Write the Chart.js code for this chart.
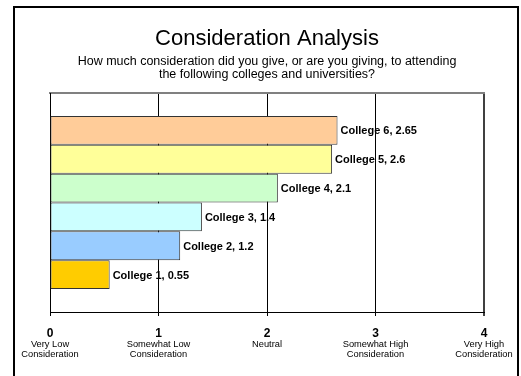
<!DOCTYPE html>
<html>
<head>
<meta charset="utf-8">
<title>Consideration Analysis</title>
<script src="https://cdn.jsdelivr.net/npm/chart.js@4.4.1/dist/chart.umd.min.js"></script>
<style>
  html, body { margin: 0; padding: 0; background: #ffffff; }
  #wrap { width: 521px; height: 376px; }
</style>
</head>
<body>
<div id="wrap"><canvas id="chart" width="521" height="376"></canvas></div>
<script>
// Colleges and their average consideration score (0 = very low, 4 = very high)
const colleges = ['College 1', 'College 2', 'College 3', 'College 4', 'College 5', 'College 6'];
const scores = [0.55, 1.2, 1.4, 2.1, 2.6, 2.65];
const barColors = ['#FFCC00', '#99CCFF', '#CCFFFF', '#CCFFCC', '#FFFF99', '#FFCC99'];

// Scale ticks and the wording printed beneath each one
const tickValues = [0, 1, 2, 3, 4];
const tickNotes = [
  ['Very Low', 'Consideration'],
  ['Somewhat Low', 'Consideration'],
  ['Neutral'],
  ['Somewhat High', 'Consideration'],
  ['Very High', 'Consideration']
];

const titleText = 'Consideration Analysis';
const subtitleLines = [
  'How much consideration did you give, or are you giving, to attending',
  'the following colleges and universities?'
];

const FONT = "'Liberation Sans', Arial, Helvetica, sans-serif";

// One category holding every college as its own bar; highest listed first so it sits on top.
const order = colleges.map((_, i) => i).reverse();
const datasets = order.map(i => ({
  label: colleges[i],
  data: [scores[i]],
  backgroundColor: barColors[i],
  borderColor: '#333333',
  borderWidth: 1,
  borderSkipped: false,
  categoryPercentage: 0.79,
  barPercentage: 1.0
}));

// Frame around the whole figure (open at the bottom)
const framePlugin = {
  id: 'frame',
  afterDraw(chart) {
    const ctx = chart.ctx;
    ctx.save();
    ctx.strokeStyle = '#000000';
    ctx.lineWidth = 2;
    ctx.beginPath();
    ctx.moveTo(14, 376);
    ctx.lineTo(14, 7);
    ctx.lineTo(518, 7);
    ctx.lineTo(518, 376);
    ctx.stroke();
    ctx.restore();
  }
};

// "College N, value" text to the right of each bar
const barLabelPlugin = {
  id: 'barLabels',
  afterDatasetsDraw(chart) {
    const ctx = chart.ctx;
    ctx.save();
    ctx.font = 'bold 11px ' + FONT;
    ctx.fillStyle = '#000000';
    ctx.textAlign = 'left';
    ctx.textBaseline = 'middle';
    chart.data.datasets.forEach((ds, di) => {
      const bar = chart.getDatasetMeta(di).data[0];
      if (!bar) return;
      ctx.fillText(ds.label + ', ' + ds.data[0], bar.x + 3, bar.y + 1);
    });
    ctx.restore();
  }
};

// Descriptive words under each numeric tick
const tickNotePlugin = {
  id: 'tickNotes',
  afterDraw(chart) {
    const xs = chart.scales.x;
    const ctx = chart.ctx;
    ctx.save();
    ctx.font = '9.3px ' + FONT;
    ctx.fillStyle = '#000000';
    ctx.textAlign = 'center';
    ctx.textBaseline = 'alphabetic';
    tickValues.forEach((v, i) => {
      const px = xs.getPixelForValue(v);
      tickNotes[i].forEach((line, li) => {
        ctx.fillText(line, px, 346.5 + li * 10.5);
      });
    });
    ctx.restore();
  }
};

new Chart(document.getElementById('chart'), {
  type: 'bar',
  data: { labels: [''], datasets },
  options: {
    indexAxis: 'y',
    responsive: false,
    animation: false,
    events: [],
    layout: { padding: { left: 50, right: 37, top: 0, bottom: 0 } },
    plugins: {
      legend: { display: false },
      tooltip: { enabled: false },
      title: {
        display: true,
        text: titleText,
        color: '#000000',
        font: { family: FONT, size: 22, weight: 'normal', lineHeight: 1.2 },
        padding: { top: 25.8, bottom: 0 }
      },
      subtitle: {
        display: true,
        text: subtitleLines,
        color: '#000000',
        font: { family: FONT, size: 12.5, weight: 'normal', lineHeight: 13 / 12.5 },
        padding: { top: 3.3, bottom: 11.5 }
      }
    },
    scales: {
      x: {
        type: 'linear',
        position: 'bottom',
        min: 0,
        max: 4,
        afterBuildTicks(scale) { scale.ticks = tickValues.map(v => ({ value: v })); },
        ticks: {
          color: '#000000',
          font: { family: FONT, size: 12, weight: 'bold' },
          padding: 10,
          maxRotation: 0,
          autoSkip: false,
          callback: v => String(v)
        },
        grid: {
          color: ctx => (ctx.tick && ctx.tick.value === 4 ? '#404040' : '#000000'),
          lineWidth: ctx => (ctx.tick && ctx.tick.value === 4 ? 2 : 1),
          tickLength: 4,
          drawTicks: true
        },
        border: { display: true, color: '#000000', width: 1 },
        afterFit(scale) {
          scale.height = 64;
          scale.paddingLeft = 0;
          scale.paddingRight = 0;
        }
      },
      xTop: {
        type: 'linear',
        position: 'top',
        min: 0,
        max: 4,
        ticks: { display: false },
        grid: { display: false, drawTicks: false },
        border: { display: true, color: '#808080', width: 2 },
        afterFit(scale) { scale.height = 0; scale.paddingLeft = 0; scale.paddingRight = 0; }
      },
      y: {
        type: 'category',
        position: 'left',
        ticks: { display: false },
        grid: { display: false, drawTicks: false },
        border: { display: true, color: '#000000', width: 1 },
        afterFit(scale) { scale.width = 0; scale.paddingTop = 0; scale.paddingBottom = 0; }
      }
    }
  },
  plugins: [framePlugin, barLabelPlugin, tickNotePlugin]
});
</script>
</body>
</html>
